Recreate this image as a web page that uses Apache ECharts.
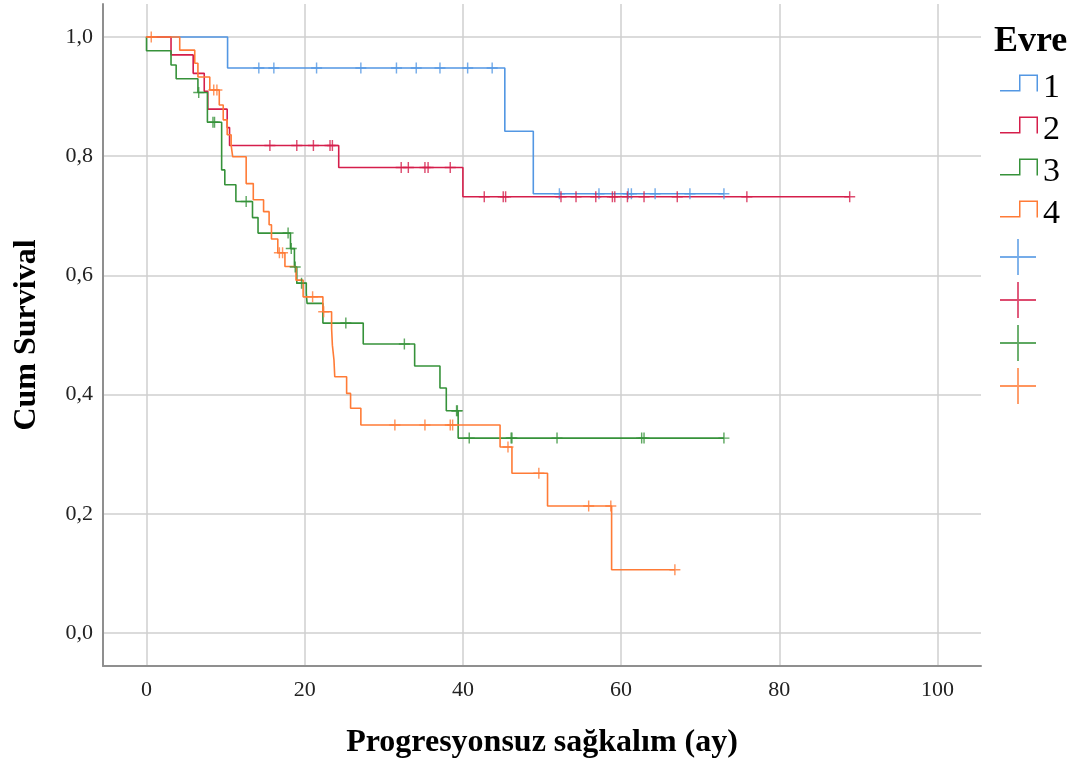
<!DOCTYPE html>
<html>
<head>
<meta charset="utf-8">
<script src="https://cdn.jsdelivr.net/npm/echarts@6/dist/echarts.min.js"></script>
<style>
  html, body { margin: 0; padding: 0; background: #ffffff; }
  #chart { width: 1079px; height: 765px; }
</style>
</head>
<body>
<div id="chart"></div>
<script>
// Axis ticks
const xTicks = [0, 20, 40, 60, 80, 100];
const yTicks = [0, 0.2, 0.4, 0.6, 0.8, 1.0];

// Stage (Evre) labels
const stages = ['1', '2', '3', '4'];

// Kaplan-Meier steps per stage: event times (months) and survival after each step
const evre1Time = [0, 10.25, 45.3, 48.9];
const evre1Surv = [1, 0.948, 0.842, 0.737];
const evre1Censor = [14.2, 16.1, 21.5, 27.1, 31.6, 34.1, 37.1, 40.6, 43.7, 52.2, 57.2, 60.9, 61.3, 64.3, 68.7, 73.0];

const evre2Time = [0, 3.1, 5.9, 7.3, 7.75, 10.2, 10.5, 24.3, 40.0];
const evre2Surv = [1, 0.970, 0.939, 0.909, 0.879, 0.848, 0.818, 0.781, 0.732];
const evre2Censor = [15.6, 19.0, 21.1, 23.2, 23.5, 32.2, 33.1, 35.2, 35.6, 38.4, 42.7, 45.1, 45.4, 52.4, 54.3, 56.8, 58.9, 59.2, 60.8, 62.9, 67.1, 75.9, 88.9];

const evre3Time = [0, 0, 3.1, 3.75, 6.5, 7.7, 9.5, 9.9, 11.3, 13.4, 14.1, 18.2, 18.7, 19.0, 20.2, 20.3, 22.3, 27.4, 33.9, 37.1, 37.9, 39.4];
const evre3Surv = [1, 0.977, 0.953, 0.930, 0.907, 0.857, 0.777, 0.752, 0.724, 0.697, 0.671, 0.645, 0.614, 0.587, 0.570, 0.553, 0.520, 0.485, 0.448, 0.411, 0.373, 0.327];
const evre3Censor = [6.6, 8.4, 8.6, 12.6, 17.9, 18.3, 18.8, 19.6, 25.2, 32.6, 39.2, 39.3, 40.8, 46.1, 46.2, 51.9, 62.6, 62.9, 73.0];

const evre4Time = [0, 4.2, 6.1, 6.5, 8.0, 9.2, 9.7, 10.2, 10.7, 10.9, 12.6, 13.5, 14.8, 15.5, 15.8, 16.6, 17.5, 18.9, 19.8, 22.3, 23.4, 23.5, 23.7, 23.8, 25.3, 25.8, 27.1, 44.7, 46.2, 50.7, 58.8];
const evre4Surv = [1, 0.978, 0.956, 0.933, 0.911, 0.886, 0.861, 0.836, 0.818, 0.799, 0.754, 0.727, 0.707, 0.685, 0.661, 0.638, 0.615, 0.592, 0.564, 0.539, 0.511, 0.483, 0.458, 0.430, 0.402, 0.377, 0.349, 0.312, 0.268, 0.213, 0.106];
const evre4Censor = [0.6, 8.5, 8.9, 16.8, 17.2, 21.0, 22.4, 31.4, 35.2, 38.4, 38.7, 45.7, 49.6, 55.9, 58.7, 66.8];

const colors = ['#5397e3', '#d51e4b', '#36923a', '#ff7b36'];

const groups = [
  { time: evre1Time, surv: evre1Surv, censor: evre1Censor },
  { time: evre2Time, surv: evre2Surv, censor: evre2Censor },
  { time: evre3Time, surv: evre3Surv, censor: evre3Censor },
  { time: evre4Time, surv: evre4Surv, censor: evre4Censor }
];

// survival level of a step function at time t
function survAt(times, surv, t) {
  let s = surv[0];
  for (let i = 0; i < times.length; i++) {
    if (times[i] <= t) s = surv[i];
  }
  return s;
}

const STEP_ICON = 'path://M0,15.5H19V0H38V17H36.5V1.5H20.5V17H0Z';
const PLUS_ICON = 'path://M9.5,0h1v9.5h9.5v1h-9.5v9.5h-1v-9.5h-9.5v-1h9.5z';
const PLUS_MARK = 'path://M8.7,0h2.6v8.7h8.7v2.6h-8.7v8.7h-2.6v-8.7h-8.7v-2.6h8.7z';

const fmtComma = v => v.toFixed(1).replace('.', ',');

const lineSeries = groups.map((g, i) => {
  const pts = g.time.map((t, k) => [t, g.surv[k]]);
  const end = Math.max(g.time[g.time.length - 1], ...g.censor);
  pts.push([end, g.surv[g.surv.length - 1]]);
  return {
    name: stages[i],
    type: 'line',
    step: 'end',
    data: pts,
    showSymbol: false,
    silent: true,
    color: colors[i],
    lineStyle: { color: colors[i], width: 1.6 },
    z: 3
  };
});

const censorNames = stages.map(s => s + '-censored');
const censorSeries = groups.map((g, i) => ({
  name: censorNames[i],
  type: 'scatter',
  data: g.censor.map(t => [t, survAt(g.time, g.surv, t)]),
  symbol: PLUS_MARK,
  symbolSize: 11,
  color: colors[i],
  itemStyle: { color: colors[i], borderWidth: 0 },
  silent: true,
  z: 4
}));

const serif = 'Liberation Serif, Times New Roman, serif';

const chart = echarts.init(document.getElementById('chart'), null, { renderer: 'canvas' });
chart.setOption({
  animation: false,
  backgroundColor: '#ffffff',
  title: {
    text: 'Evre',
    left: 989,
    top: 19,
    textStyle: { fontFamily: serif, fontWeight: 'bold', fontSize: 36, color: '#000' }
  },
  legend: [
    {
      orient: 'vertical',
      left: 995,
      top: 56,
      itemWidth: 38,
      itemHeight: 17,
      itemGap: -2,
      selectedMode: false,
      data: stages.map(n => ({ name: n, icon: STEP_ICON })),
      itemStyle: { borderWidth: 0 },
      formatter: '{lbl|{name}}',
      textStyle: {
        fontFamily: serif, fontSize: 34, color: '#000',
        rich: { lbl: { fontFamily: serif, fontSize: 34, lineHeight: 34, color: '#000', padding: [10, 0, 0, 0] } }
      }
    },
    {
      orient: 'vertical',
      left: 995,
      top: 234,
      itemWidth: 38,
      itemHeight: 36,
      itemGap: 7,
      selectedMode: false,
      data: censorNames.map(n => ({ name: n, icon: PLUS_ICON })),
      itemStyle: { borderWidth: 0 },
      formatter: () => '',
      textStyle: { fontSize: 10, lineHeight: 10 }
    }
  ],
  grid: { left: 103, right: 98, top: 4, bottom: 99, containLabel: false },
  xAxis: {
    type: 'value',
    min: -5.5,
    max: 105.5,
    name: 'Progresyonsuz sağkalım (ay)',
    nameLocation: 'middle',
    nameGap: 61,
    nameTextStyle: { fontFamily: serif, fontWeight: 'bold', fontSize: 32, color: '#000' },
    axisLine: { onZero: false, lineStyle: { color: '#8f8f8f', width: 2 } },
    axisTick: { show: false, customValues: xTicks },
    axisLabel: { customValues: xTicks, margin: 13, fontFamily: serif, fontSize: 22, color: '#222' },
    splitLine: { show: true, lineStyle: { color: '#cfcfcf', width: 1.5 } }
  },
  yAxis: {
    type: 'value',
    min: -0.0554,
    max: 1.0554,
    name: 'Cum Survival',
    nameLocation: 'middle',
    nameGap: 60,
    nameTextStyle: { fontFamily: serif, fontWeight: 'bold', fontSize: 32, color: '#000' },
    axisLine: { show: true, onZero: false, lineStyle: { color: '#8f8f8f', width: 2 } },
    axisTick: { show: false, customValues: yTicks },
    axisLabel: { customValues: yTicks, margin: 10, fontFamily: serif, fontSize: 22, color: '#222', formatter: fmtComma },
    splitLine: { show: true, lineStyle: { color: '#cfcfcf', width: 1.5 } }
  },
  series: [...lineSeries, ...censorSeries]
});
</script>
</body>
</html>
